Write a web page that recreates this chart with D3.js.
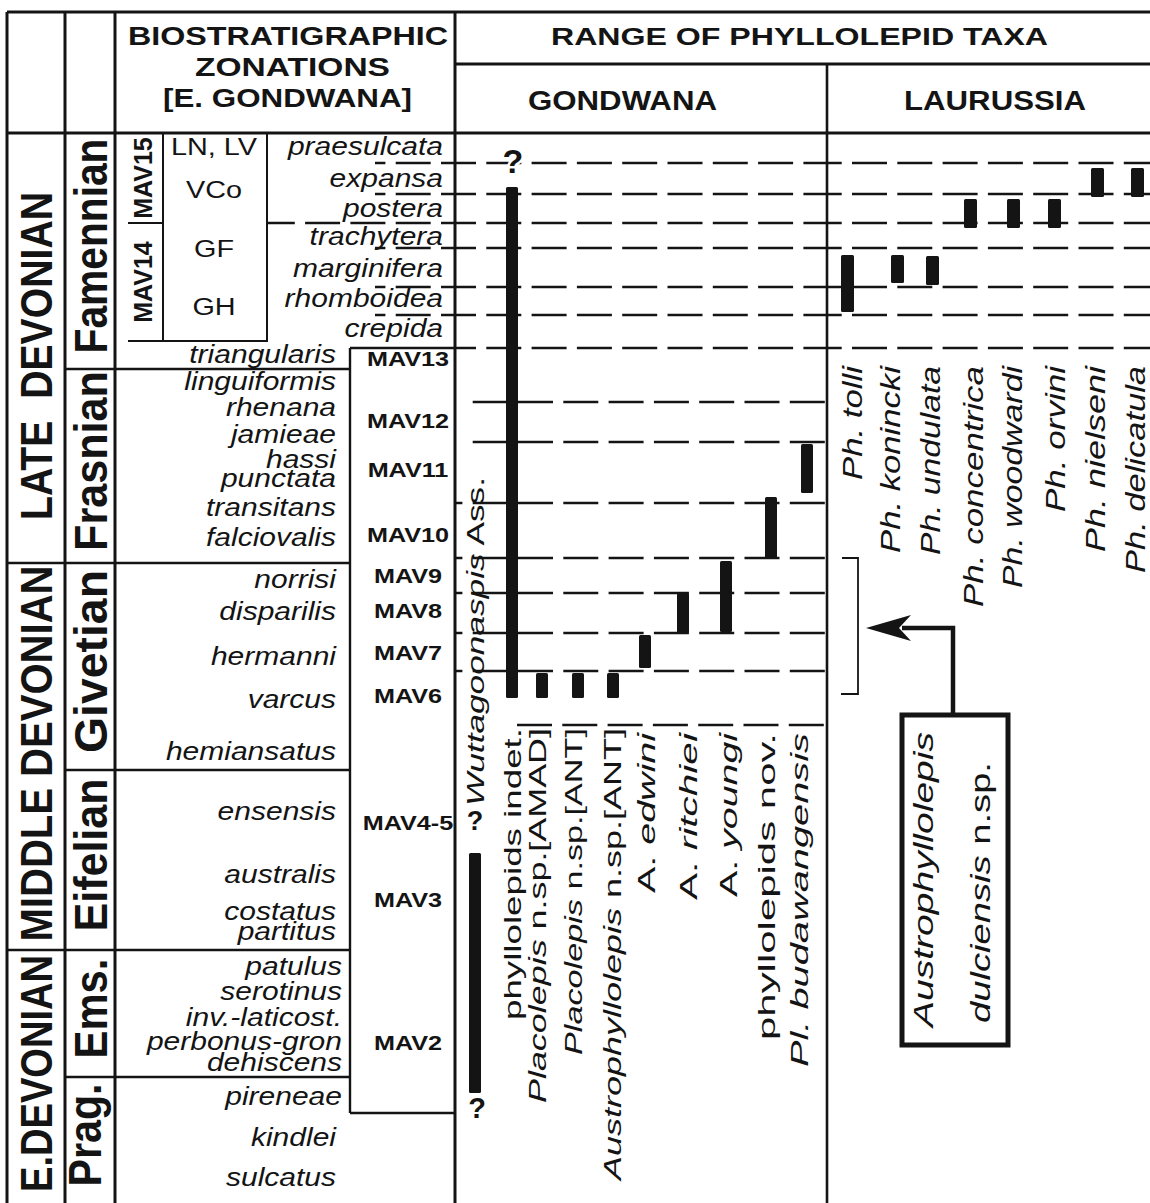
<!DOCTYPE html>
<html>
<head>
<meta charset="utf-8">
<script src="https://cdn.jsdelivr.net/npm/d3@7"></script>
<style>
  body { margin: 0; background: #fff; }
  svg { display: block; }
  text { white-space: pre; }
</style>
</head>
<body>
<div id="chart"></div>
<script>
// ---- data (levels are stratigraphic depth below the top of the column) ----
const eraNames = ["LATE  DEVONIAN", "MIDDLE DEVONIAN", "E.DEVONIAN"];
const eraTop = [0, 430, 817];
const eraBase = [430, 817, 1070];

const stageNames = ["Famennian", "Frasnian", "Givetian", "Eifelian", "Ems.", "Prag."];
const stageTop = [0, 236, 430, 637, 817, 944];
const stageBase = [236, 430, 637, 817, 944, 1070];

const conodontZones = ["praesulcata", "expansa", "postera", "trachytera", "marginifera",
  "rhomboidea", "crepida", "triangularis", "linguiformis", "rhenana", "jamieae", "hassi",
  "punctata", "transitans", "falciovalis", "norrisi", "disparilis", "hermanni", "varcus",
  "hemiansatus", "ensensis", "australis", "costatus", "partitus", "patulus", "serotinus",
  "inv.-laticost.", "perbonus-gron", "dehiscens", "pireneae", "kindlei", "sulcatus"];
const conodontLevel = [22, 54, 84, 112, 144, 174, 204, 230, 257, 283, 310, 335, 354, 383,
  413, 455, 487, 532, 575, 627, 687, 750, 787, 807, 842, 867, 893, 917, 938, 972, 1013, 1053];

const mavZones = ["MAV13", "MAV12", "MAV11", "MAV10", "MAV9", "MAV8", "MAV7", "MAV6",
  "MAV4-5", "MAV3", "MAV2"];
const mavLevel = [233, 295, 344, 409, 450, 485, 527, 570, 697, 774, 917];
const mavBoxTop = 215, mavBoxBase = 980;

const famMav = ["MAV15", "MAV14"];
const famMavTop = [0, 90];
const famMavBase = [90, 208];
const localUnits = ["LN, LV", "VCo", "GF", "GH"];
const localLevel = [22, 65, 124, 182];

const famBoundaries = [30, 61, 90, 115, 154, 182, 215];
const mavBoundaries = [269, 309, 370, 425, 460, 500, 538];
const mav6Base = 592;

const gondTaxa = ["Wuttagoonaspis Ass.", "phyllolepids indet.", "Placolepis n.sp.[AMAD]",
  "Placolepis n.sp.[ANT]", "Austrophyllolepis n.sp.[ANT]", "A. edwini", "A. ritchiei",
  "A. youngi", "phyllolepids nov.", "Pl. budawangensis"];
const gondYoungest = [720, 54, 540, 540, 540, 502, 460, 428, 364, 311];
const gondOldest = [960, 565, 565, 565, 565, 535, 500, 499, 425, 360];

const lauTaxa = ["Ph. tolli", "Ph. konincki", "Ph. undulata", "Ph. concentrica",
  "Ph. woodwardi", "Ph. orvini", "Ph. nielseni", "Ph. delicatula"];
const lauYoungest = [122, 122, 123, 66, 66, 66, 35, 35];
const lauOldest = [179, 150, 152, 95, 95, 95, 64, 64];

const newTaxon = ["Austrophyllolepis", "dulciensis n.sp."];
const newTaxonRange = [425, 561];

const italicWords = new Set(["Wuttagoonaspis", "Placolepis", "Austrophyllolepis", "edwini",
  "ritchiei", "youngi", "Pl.", "budawangensis", "Ph.", "tolli", "konincki", "undulata",
  "concentrica", "woodwardi", "orvini", "nielseni", "delicatula", "dulciensis"]);

// ---- layout ----
const INK = "#141414";
const FONT = '"Liberation Sans", Arial, Helvetica, sans-serif';
const SX = 1.2; // the original lettering is a wide face
const W = 1150, H = 1203;

const svg = d3.select("#chart").append("svg")
  .attr("width", W).attr("height", H)
  .style("background", "#fff");

const y = d3.scaleLinear().domain([0, 1070]).range([133, 1203]);
const gx = d3.scaleOrdinal().domain(gondTaxa)
  .range([475, 512, 542, 578, 613, 645, 683, 726, 771, 807]);
const lx = d3.scaleOrdinal().domain(lauTaxa)
  .range([847, 897, 932, 970, 1013, 1054, 1097, 1137]);

// label placement for the rotated taxon names
const gondLabelX = [484, 521, 546, 582, 621, 655, 697, 737, 775, 808];
const gondLabelStart = [806, 1020, 1103, 1055, 1180, 893, 900, 897, 1040, 1067];
const gondLabelEnd = [477, 728, 728, 728, 728, 733, 733, 733, 733, 733];
const lauLabelX = [862, 900, 940, 983, 1022, 1065, 1105, 1145];
const lauLabelStart = [480, 553, 555, 607, 588, 512, 552, 573];
const lauLabelEnd = 366;

function styledParts(name) {
  return name.split(" ").map((w, i) => [(i ? " " : "") + w, italicWords.has(w)]);
}

function txt(str, o) {
  const t = svg.append("text")
    .attr("font-family", FONT)
    .attr("font-size", o.size)
    .attr("fill", INK)
    .attr("font-weight", o.bold ? "bold" : "normal")
    .attr("text-anchor", o.anchor || "start");
  if (o.rot) t.attr("transform", `translate(${o.x},${o.y}) rotate(-90)`);
  else t.attr("transform", `translate(${o.x},${o.y}) scale(${o.len ? 1 : (o.sx || SX)},1)`);
  const parts = o.parts || [[str, !!o.italic]];
  parts.forEach(([s, it]) => t.append("tspan")
    .attr("font-style", it ? "italic" : "normal").text(s));
  if (o.len) t.attr("textLength", o.len).attr("lengthAdjust", "spacingAndGlyphs");
  if (o.halo) t.attr("stroke", "#fff").attr("stroke-width", 5)
    .attr("paint-order", "stroke").attr("stroke-linejoin", "round");
  return t;
}

function line(x1, y1, x2, y2, w) {
  svg.append("line").attr("x1", x1).attr("y1", y1).attr("x2", x2).attr("y2", y2)
    .attr("stroke", INK).attr("stroke-width", w || 2.5);
}

const DASH = 35, GAP = 10.3, PER = DASH + GAP;
function dashed(x1, x2, lvl, phase) {
  svg.append("line")
    .attr("x1", x1).attr("x2", x2).attr("y1", y(lvl)).attr("y2", y(lvl))
    .attr("stroke", INK).attr("stroke-width", 2.3)
    .attr("stroke-dasharray", `${DASH},${GAP}`)
    .attr("stroke-dashoffset", (((x1 - phase) % PER) + PER) % PER);
}

// ---- dashed zone boundaries ----
famBoundaries.forEach(l => {
  if (l === 90) dashed(267, 455, l, 441);
  else if (l !== mavBoxTop) dashed(375, 455, l, 441);
  dashed(455, 827, l, 441);
  dashed(827, W, l, 806.7);
});
mavBoundaries.forEach(l => dashed(l < 320 ? 470 : 455, 827, l, 472.7));
dashed(517, 827, mav6Base, 517);

// ---- frame ----
line(7, 12, W, 12, 3);
line(455, 64, W, 64, 2.8);
line(7, 133, W, 133, 3);
[7, 65, 115, 455].forEach(x => line(x, 12, x, H, 3));
line(827, 64, 827, H, 2.6);

// stage / epoch boundaries
stageBase.slice(0, -1).forEach(l => {
  const isEra = eraBase.includes(l);
  line(isEra ? 7 : 65, y(l), 350, y(l), 2.6);
});

// Famennian local units
svg.append("rect").attr("x", 163).attr("y", y(0)).attr("width", 104)
  .attr("height", y(famMavBase[1]) - y(0))
  .attr("fill", "none").attr("stroke", INK).attr("stroke-width", 2);
line(128, y(famMavBase[0]), 163, y(famMavBase[0]), 2);
line(128, y(famMavBase[1]), 163, y(famMavBase[1]), 2);

// MAV box
line(350, y(mavBoxTop), 455, y(mavBoxTop), 2.4);
line(350, y(mavBoxTop), 350, y(mavBoxBase), 2.4);
line(350, y(mavBoxBase), 455, y(mavBoxBase), 2.4);

// ---- range bars ----
const BW = 12;
svg.append("g").selectAll("rect").data(gondTaxa).join("rect")
  .attr("x", d => gx(d) - BW / 2)
  .attr("y", (d, i) => y(gondYoungest[i]))
  .attr("width", BW)
  .attr("height", (d, i) => y(gondOldest[i]) - y(gondYoungest[i]))
  .attr("rx", 1.5).attr("fill", INK);

svg.append("g").selectAll("rect").data(lauTaxa).join("rect")
  .attr("x", d => lx(d) - BW / 2)
  .attr("y", (d, i) => y(lauYoungest[i]))
  .attr("width", BW + 1)
  .attr("height", (d, i) => y(lauOldest[i]) - y(lauYoungest[i]))
  .attr("rx", 1.5).attr("fill", INK);

// question marks
txt("?", { x: gx(gondTaxa[1]) + 1, y: y(40), size: 34, bold: true, anchor: "middle", sx: 1, halo: true });
txt("?", { x: gx(gondTaxa[0]), y: y(697), size: 27, bold: true, anchor: "middle", sx: 1 });
txt("?", { x: gx(gondTaxa[0]) + 2, y: y(985), size: 29, bold: true, anchor: "middle", sx: 1 });

// ---- headers ----
txt("BIOSTRATIGRAPHIC", { x: 128, y: 45, size: 26, bold: true, len: 320 });
txt("ZONATIONS", { x: 195, y: 76, size: 26, bold: true, len: 195 });
txt("[E. GONDWANA]", { x: 163, y: 107, size: 26, bold: true, len: 249 });
txt("RANGE OF PHYLLOLEPID TAXA", { x: 551, y: 45, size: 24, bold: true, len: 497 });
txt("GONDWANA", { x: 528, y: 110, size: 27, bold: true, len: 189 });
txt("LAURUSSIA", { x: 904, y: 110, size: 27, bold: true, len: 182 });

// ---- epoch and stage names ----
const eraLen = [328, 376, 237];
eraNames.forEach((n, i) => {
  const c = (y(eraTop[i]) + y(eraBase[i])) / 2 + (i === 0 ? 8 : -3);
  txt(n, { x: 52, y: c + eraLen[i] / 2, size: 44, bold: true, rot: true, len: eraLen[i] });
});
const stageLen = [215, 180, 183, 153, 100, 103];
stageNames.forEach((n, i) => {
  const c = (y(stageTop[i]) + y(stageBase[i])) / 2 - 5;
  txt(n, { x: n === "Prag." ? 101 : 107, y: c + stageLen[i] / 2, size: 46, bold: true, rot: true, len: stageLen[i] });
});

famMav.forEach((n, i) => {
  const c = (y(famMavTop[i]) + y(famMavBase[i])) / 2;
  txt(n, { x: 152, y: c, size: 25, bold: true, rot: true, anchor: "middle" });
});
localUnits.forEach((n, i) => {
  txt(n, { x: 214, y: y(localLevel[i]), size: 24, anchor: "middle" });
});

// ---- conodont zones ----
conodontZones.forEach((n, i) => {
  const l = conodontLevel[i];
  let x = 336;
  if (l < mavBoxTop) x = 443;
  else if (l >= 817 && l < 1000) x = 342;
  txt(n, { x, y: y(l), size: 25, italic: true, anchor: "end" });
});

mavZones.forEach((n, i) => {
  txt(n, { x: 408, y: y(mavLevel[i]), size: 21, bold: true, anchor: "middle" });
});

// ---- taxon labels ----
gondTaxa.forEach((n, i) => {
  txt(n, { x: gondLabelX[i], y: gondLabelStart[i], size: 24, rot: true,
    parts: styledParts(n), len: gondLabelStart[i] - gondLabelEnd[i] });
});
lauTaxa.forEach((n, i) => {
  txt(n, { x: lauLabelX[i], y: lauLabelStart[i], size: 27, rot: true,
    parts: styledParts(n), len: lauLabelStart[i] - lauLabelEnd });
});

// ---- new taxon call-out ----
const bx = 842, bxR = 858;
svg.append("path")
  .attr("d", `M${bx},${y(newTaxonRange[0])}H${bxR}V${y(newTaxonRange[1])}H${bx - 1}`)
  .attr("fill", "none").attr("stroke", INK).attr("stroke-width", 1.8);

const boxTop = 582, boxBase = 912, arrowLvl = 495;
svg.append("path")
  .attr("d", `M953,${y(boxTop)}V${y(arrowLvl)}H902`)
  .attr("fill", "none").attr("stroke", INK).attr("stroke-width", 4.5);
svg.append("path")
  .attr("d", `M866,${y(arrowLvl)}L911,${y(arrowLvl) - 13}L899,${y(arrowLvl)}L911,${y(arrowLvl) + 13}Z`)
  .attr("fill", INK);
svg.append("rect")
  .attr("x", 902).attr("y", y(boxTop)).attr("width", 106)
  .attr("height", y(boxBase) - y(boxTop))
  .attr("fill", "#fff").attr("stroke", INK).attr("stroke-width", 5);

txt(newTaxon[0], { x: 933, y: 1027, size: 27, rot: true, parts: styledParts(newTaxon[0]), len: 295 });
txt(newTaxon[1], { x: 990, y: 1023, size: 27, rot: true, parts: styledParts(newTaxon[1]), len: 261 });
</script>
</body>
</html>
